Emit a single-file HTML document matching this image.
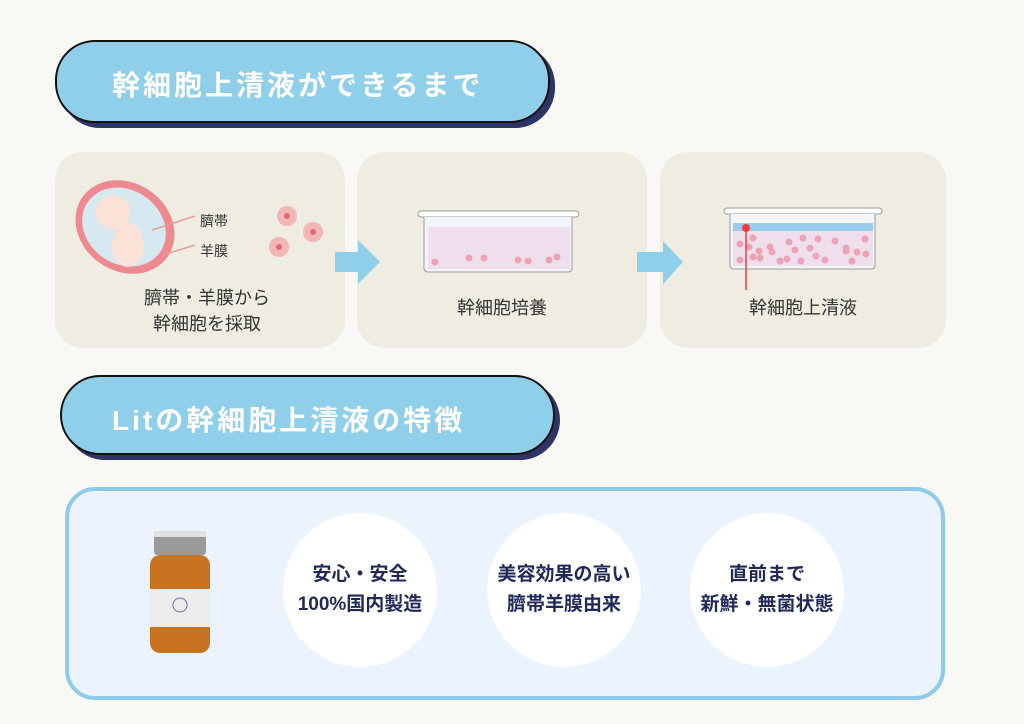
<!DOCTYPE html>
<html><head><meta charset="utf-8"><style>
body{margin:0;width:1024px;height:724px;background:#f8f8f4;position:relative;overflow:hidden;font-family:"Liberation Sans","Noto Sans CJK JP",sans-serif}
.h{position:absolute;background:#8fcfea;border:2px solid #111;border-radius:40px;box-shadow:5px 5px 0 #2e3566;color:#fff;font-size:28px;font-weight:bold;letter-spacing:3px;box-sizing:border-box}
.card{position:absolute;background:#efede2;border-radius:28px;top:152px;height:196px}
.t{position:absolute;color:#333;font-size:18px;text-align:center;line-height:26px}
.c{position:absolute;width:154px;height:154px;border-radius:50%;background:#fff;display:flex;align-items:center;justify-content:center;text-align:center;font-size:19px;font-weight:bold;color:#1f2a5a;line-height:30px}
</style></head><body>
<div class="h" style="left:55px;top:40px;width:495px;height:83px;padding:22px 0 0 55px">幹細胞上清液ができるまで</div>
<div class="card" style="left:55px;width:290px"></div>
<div class="card" style="left:357px;width:290px"></div>
<div class="card" style="left:660px;width:286px"></div>
<svg width="1024" height="724" style="position:absolute;left:0;top:0">
<ellipse cx="125" cy="227" rx="52" ry="44" fill="#ee8a8f" transform="rotate(35 125 227)"/>
<ellipse cx="124" cy="227" rx="44" ry="37" fill="#d6e9f1" transform="rotate(35 124 227)"/>
<circle cx="113" cy="212" r="17" fill="#fbe1d6"/>
<ellipse cx="128" cy="245" rx="16" ry="22" fill="#fbe1d6"/>
<line x1="152" y1="230" x2="195" y2="216" stroke="#ee9a9c" stroke-width="1.5"/>
<line x1="163" y1="255" x2="195" y2="245" stroke="#ee9a9c" stroke-width="1.5"/>
<circle cx="287" cy="216" r="10" fill="#f4b5b6"/><circle cx="287" cy="216" r="3" fill="#e06a72"/>
<circle cx="313" cy="232" r="10" fill="#f4b5b6"/><circle cx="313" cy="232" r="3" fill="#e06a72"/>
<circle cx="279" cy="247" r="10" fill="#f4b5b6"/><circle cx="279" cy="247" r="3" fill="#e06a72"/>
<polygon points="335,252 358,252 358,240 380,262 358,284 358,272 335,272" fill="#8fcfea"/>
<polygon points="637,252 663,252 663,241 683,262 663,284 663,272 637,272" fill="#8fcfea"/>
<rect x="418" y="211" width="161" height="6" rx="3" fill="#fff" stroke="#999"/>
<path d="M424 217 V268 Q424 272 428 272 H568 Q572 272 572 268 V217" fill="#f2f6fa" stroke="#999"/>
<rect x="428" y="227" width="142" height="42" fill="#efdeeb"/>
<g fill="#eea3b5"><circle cx="435" cy="262" r="3.5"/><circle cx="469" cy="258" r="3.5"/><circle cx="484" cy="258" r="3.5"/><circle cx="518" cy="260" r="3.5"/><circle cx="528" cy="261" r="3.5"/><circle cx="549" cy="260" r="3.5"/><circle cx="557" cy="257" r="3.5"/></g>
<rect x="724" y="208" width="158" height="6" rx="3" fill="#fff" stroke="#999"/>
<path d="M730 214 V265 Q730 269 734 269 H871 Q875 269 875 265 V214" fill="#f2f6fa" stroke="#999"/>
<rect x="733" y="223" width="140" height="8" fill="#98cbee"/>
<rect x="733" y="231" width="140" height="35" fill="#efdeeb"/>
<g fill="#eea3b5"><circle cx="740" cy="244" r="3.5"/><circle cx="753" cy="238" r="3.5"/><circle cx="749" cy="247" r="3.5"/><circle cx="759" cy="251" r="3.5"/><circle cx="770" cy="247" r="3.5"/><circle cx="789" cy="242" r="3.5"/><circle cx="795" cy="250" r="3.5"/><circle cx="803" cy="238" r="3.5"/><circle cx="810" cy="248" r="3.5"/><circle cx="818" cy="239" r="3.5"/><circle cx="835" cy="241" r="3.5"/><circle cx="846" cy="251" r="3.5"/><circle cx="846" cy="248" r="3.5"/><circle cx="865" cy="239" r="3.5"/><circle cx="857" cy="252" r="3.5"/><circle cx="740" cy="260" r="3.5"/><circle cx="753" cy="257" r="3.5"/><circle cx="780" cy="261" r="3.5"/><circle cx="787" cy="259" r="3.5"/><circle cx="801" cy="261" r="3.5"/><circle cx="816" cy="256" r="3.5"/><circle cx="825" cy="260" r="3.5"/><circle cx="852" cy="261" r="3.5"/><circle cx="760" cy="258" r="3.5"/><circle cx="772" cy="252" r="3.5"/><circle cx="866" cy="254" r="3.5"/></g>
<line x1="746" y1="228" x2="746" y2="290" stroke="#f03a3a" stroke-width="1.5"/>
<circle cx="746" cy="228" r="4" fill="#f03a3a"/>
</svg>
<div class="t" style="left:200px;top:206px;font-size:14px;line-height:30px;text-align:left">臍帯<br>羊膜</div>
<div class="t" style="left:62px;top:285px;width:290px">臍帯・羊膜から<br>幹細胞を採取</div>
<div class="t" style="left:357px;top:295px;width:290px">幹細胞培養</div>
<div class="t" style="left:660px;top:295px;width:286px">幹細胞上清液</div>
<div class="h" style="left:60px;top:375px;width:495px;height:80px;padding:22px 0 0 50px">Litの幹細胞上清液の特徴</div>
<div style="position:absolute;left:65px;top:487px;width:880px;height:213px;box-sizing:border-box;border:4px solid #8ecbe9;border-radius:30px;background:#eaf3fe"></div>
<svg width="100" height="140" style="position:absolute;left:130px;top:525px">
<rect x="24" y="6" width="52" height="24" rx="3" fill="#9a9a9a"/>
<rect x="24" y="6" width="52" height="6" fill="#e0e0e0"/>
<rect x="20" y="30" width="60" height="98" rx="10" fill="#c8731f"/>
<rect x="20" y="64" width="60" height="38" fill="#ececec"/>
<circle cx="50" cy="80" r="7" fill="none" stroke="#6a70b0"/>
</svg>
<div class="c" style="left:283px;top:513px">安心・安全<br>100%国内製造</div>
<div class="c" style="left:487px;top:513px">美容効果の高い<br>臍帯羊膜由来</div>
<div class="c" style="left:690px;top:513px">直前まで<br>新鮮・無菌状態</div>
</body></html>
